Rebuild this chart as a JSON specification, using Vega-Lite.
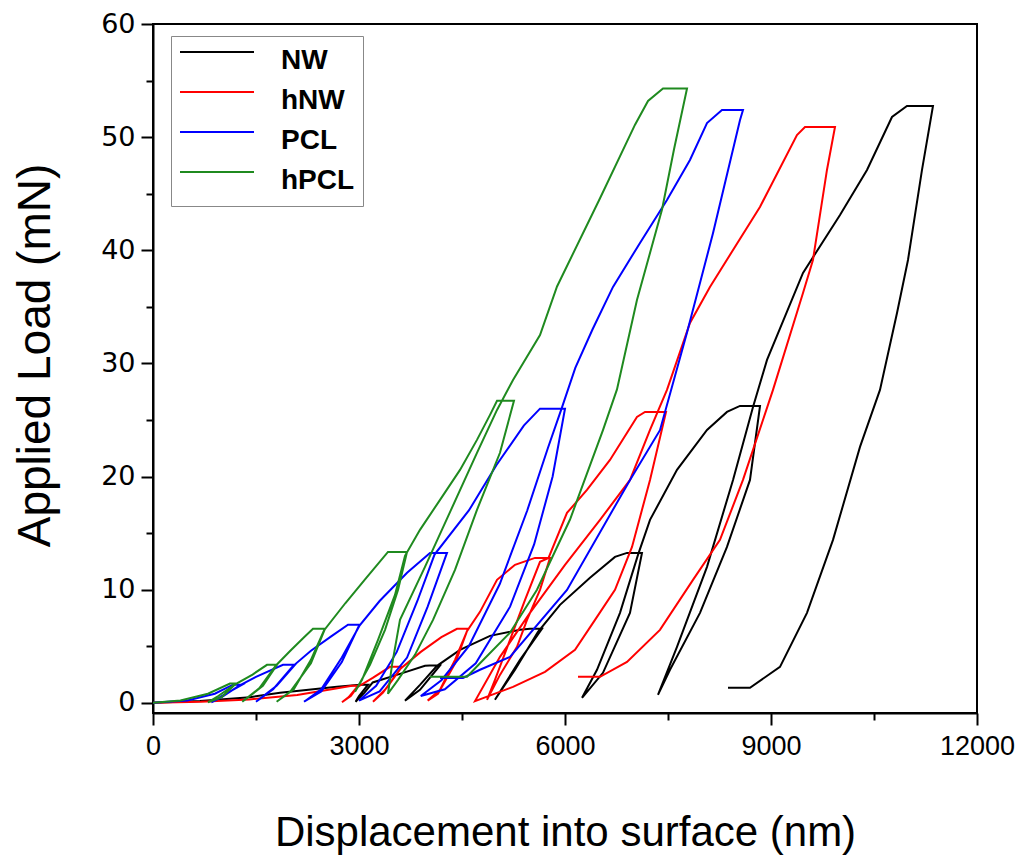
{
  "$schema": "https://vega.github.io/schema/vega-lite/v6.json",
  "autosize": {"type": "none"},
  "width": 824,
  "height": 689,
  "padding": {"left": 153, "top": 24, "right": 52, "bottom": 145},
  "background": "white",
  "config": {"view": {"stroke": "black", "strokeWidth": 2}, "legend": {"strokeColor": "#888888", "fillColor": "white"}},
  "data": {"values": [
    {"s":"NW","i":1,"x":0,"y":0},{"s":"NW","i":2,"x":684,"y":0.15},{"s":"NW","i":3,"x":1413,"y":0.5},{"s":"NW","i":4,"x":1850,"y":0.88},{"s":"NW","i":5,"x":2680,"y":1.41},{"s":"NW","i":6,"x":3015,"y":1.6},{"s":"NW","i":7,"x":3131,"y":1.6},{"s":"NW","i":8,"x":3000,"y":0.6},{"s":"NW","i":9,"x":2950,"y":0.1},{"s":"NW","i":10,"x":3080,"y":0.9},{"s":"NW","i":11,"x":3200,"y":1.8},{"s":"NW","i":12,"x":3597,"y":2.56},{"s":"NW","i":13,"x":3961,"y":3.27},{"s":"NW","i":14,"x":4030,"y":3.3},{"s":"NW","i":15,"x":4180,"y":3.3},{"s":"NW","i":16,"x":3888,"y":1.15},{"s":"NW","i":17,"x":3670,"y":0.18},{"s":"NW","i":18,"x":3888,"y":1.59},{"s":"NW","i":19,"x":4136,"y":3.27},{"s":"NW","i":20,"x":4471,"y":4.68},{"s":"NW","i":21,"x":4908,"y":5.92},{"s":"NW","i":22,"x":5345,"y":6.45},{"s":"NW","i":23,"x":5490,"y":6.54},{"s":"NW","i":24,"x":5665,"y":6.54},{"s":"NW","i":25,"x":5345,"y":3.8},{"s":"NW","i":26,"x":4980,"y":0.27},{"s":"NW","i":27,"x":5272,"y":2.92},{"s":"NW","i":28,"x":5607,"y":6.27},{"s":"NW","i":29,"x":5927,"y":8.66},{"s":"NW","i":30,"x":6364,"y":11.05},{"s":"NW","i":31,"x":6728,"y":12.9},{"s":"NW","i":32,"x":6903,"y":13.25},{"s":"NW","i":33,"x":7121,"y":13.25},{"s":"NW","i":34,"x":6946,"y":7.95},{"s":"NW","i":35,"x":6553,"y":2.65},{"s":"NW","i":36,"x":6248,"y":0.44},{"s":"NW","i":37,"x":6466,"y":2.92},{"s":"NW","i":38,"x":6801,"y":7.95},{"s":"NW","i":39,"x":7063,"y":13.08},{"s":"NW","i":40,"x":7238,"y":16.17},{"s":"NW","i":41,"x":7631,"y":20.59},{"s":"NW","i":42,"x":8068,"y":24.12},{"s":"NW","i":43,"x":8359,"y":25.71},{"s":"NW","i":44,"x":8548,"y":26.24},{"s":"NW","i":45,"x":8840,"y":26.24},{"s":"NW","i":46,"x":8694,"y":19.7},{"s":"NW","i":47,"x":8359,"y":13.78},{"s":"NW","i":48,"x":7966,"y":7.95},{"s":"NW","i":49,"x":7529,"y":2.92},{"s":"NW","i":50,"x":7354,"y":0.71},{"s":"NW","i":51,"x":7631,"y":4.95},{"s":"NW","i":52,"x":8068,"y":12.02},{"s":"NW","i":53,"x":8447,"y":19.7},{"s":"NW","i":54,"x":8738,"y":26.15},{"s":"NW","i":55,"x":8942,"y":30.31},{"s":"NW","i":56,"x":9466,"y":38.0},{"s":"NW","i":57,"x":10005,"y":43.12},{"s":"NW","i":58,"x":10398,"y":47.1},{"s":"NW","i":59,"x":10762,"y":51.78},{"s":"NW","i":60,"x":10980,"y":52.75},{"s":"NW","i":61,"x":11359,"y":52.75},{"s":"NW","i":62,"x":11199,"y":47.1},{"s":"NW","i":63,"x":10995,"y":39.14},{"s":"NW","i":64,"x":10835,"y":34.46},{"s":"NW","i":65,"x":10587,"y":27.66},{"s":"NW","i":66,"x":10296,"y":22.62},{"s":"NW","i":67,"x":9903,"y":14.4},{"s":"NW","i":68,"x":9524,"y":7.95},{"s":"NW","i":69,"x":9131,"y":3.18},{"s":"NW","i":70,"x":8694,"y":1.33},{"s":"NW","i":71,"x":8374,"y":1.33},

    {"s":"hNW","i":1,"x":0,"y":0},{"s":"hNW","i":2,"x":700,"y":0.1},{"s":"hNW","i":3,"x":1400,"y":0.3},{"s":"hNW","i":4,"x":2100,"y":0.7},{"s":"hNW","i":5,"x":2600,"y":1.2},{"s":"hNW","i":6,"x":2898,"y":1.5},{"s":"hNW","i":7,"x":2985,"y":1.5},{"s":"hNW","i":8,"x":2850,"y":0.5},{"s":"hNW","i":9,"x":2752,"y":0.05},{"s":"hNW","i":10,"x":2880,"y":0.6},{"s":"hNW","i":11,"x":2980,"y":1.4},{"s":"hNW","i":12,"x":3200,"y":2.2},{"s":"hNW","i":13,"x":3451,"y":3.18},{"s":"hNW","i":14,"x":3626,"y":3.18},{"s":"hNW","i":15,"x":3400,"y":1.3},{"s":"hNW","i":16,"x":3204,"y":0.1},{"s":"hNW","i":17,"x":3350,"y":0.9},{"s":"hNW","i":18,"x":3600,"y":3.0},{"s":"hNW","i":19,"x":3900,"y":4.5},{"s":"hNW","i":20,"x":4200,"y":5.8},{"s":"hNW","i":21,"x":4427,"y":6.54},{"s":"hNW","i":22,"x":4587,"y":6.54},{"s":"hNW","i":23,"x":4398,"y":3.8},{"s":"hNW","i":24,"x":4180,"y":1.15},{"s":"hNW","i":25,"x":4000,"y":0.2},{"s":"hNW","i":26,"x":4150,"y":0.8},{"s":"hNW","i":27,"x":4400,"y":3.5},{"s":"hNW","i":28,"x":4570,"y":6.3},{"s":"hNW","i":29,"x":4762,"y":8.04},{"s":"hNW","i":30,"x":5010,"y":10.87},{"s":"hNW","i":31,"x":5272,"y":12.2},{"s":"hNW","i":32,"x":5563,"y":12.81},{"s":"hNW","i":33,"x":5782,"y":12.81},{"s":"hNW","i":34,"x":5636,"y":9.98},{"s":"hNW","i":35,"x":5447,"y":7.33},{"s":"hNW","i":36,"x":5301,"y":4.95},{"s":"hNW","i":37,"x":5053,"y":2.47},{"s":"hNW","i":38,"x":4864,"y":0.27},{"s":"hNW","i":39,"x":4980,"y":2.03},{"s":"hNW","i":40,"x":5199,"y":5.57},{"s":"hNW","i":41,"x":5418,"y":9.1},{"s":"hNW","i":42,"x":5636,"y":12.46},{"s":"hNW","i":43,"x":5760,"y":12.8},{"s":"hNW","i":44,"x":6029,"y":16.79},{"s":"hNW","i":45,"x":6320,"y":18.82},{"s":"hNW","i":46,"x":6655,"y":21.47},{"s":"hNW","i":47,"x":7048,"y":25.27},{"s":"hNW","i":48,"x":7165,"y":25.71},{"s":"hNW","i":49,"x":7471,"y":25.71},{"s":"hNW","i":50,"x":7238,"y":19.7},{"s":"hNW","i":51,"x":6976,"y":13.78},{"s":"hNW","i":52,"x":6728,"y":9.98},{"s":"hNW","i":53,"x":6437,"y":7.33},{"s":"hNW","i":54,"x":6146,"y":4.68},{"s":"hNW","i":55,"x":5709,"y":2.74},{"s":"hNW","i":56,"x":5243,"y":1.41},{"s":"hNW","i":57,"x":4690,"y":0.15},{"s":"hNW","i":58,"x":5053,"y":4.06},{"s":"hNW","i":59,"x":5490,"y":7.95},{"s":"hNW","i":60,"x":6000,"y":12.2},{"s":"hNW","i":61,"x":6510,"y":16.17},{"s":"hNW","i":62,"x":6947,"y":19.7},{"s":"hNW","i":63,"x":7238,"y":24.12},{"s":"hNW","i":64,"x":7485,"y":27.66},{"s":"hNW","i":65,"x":7820,"y":33.58},{"s":"hNW","i":66,"x":8111,"y":36.76},{"s":"hNW","i":67,"x":8839,"y":43.83},{"s":"hNW","i":68,"x":9378,"y":50.19},{"s":"hNW","i":69,"x":9495,"y":50.9},{"s":"hNW","i":70,"x":9932,"y":50.9},{"s":"hNW","i":71,"x":9815,"y":47.1},{"s":"hNW","i":72,"x":9611,"y":39.14},{"s":"hNW","i":73,"x":9466,"y":36.23},{"s":"hNW","i":74,"x":9029,"y":27.66},{"s":"hNW","i":75,"x":8592,"y":19.7},{"s":"hNW","i":76,"x":8257,"y":14.4},{"s":"hNW","i":77,"x":7864,"y":10.87},{"s":"hNW","i":78,"x":7383,"y":6.45},{"s":"hNW","i":79,"x":6903,"y":3.62},{"s":"hNW","i":80,"x":6510,"y":2.3},{"s":"hNW","i":81,"x":6189,"y":2.3},

    {"s":"PCL","i":1,"x":0,"y":0},{"s":"PCL","i":2,"x":500,"y":0.2},{"s":"PCL","i":3,"x":900,"y":0.8},{"s":"PCL","i":4,"x":1165,"y":1.6},{"s":"PCL","i":5,"x":1296,"y":1.6},{"s":"PCL","i":6,"x":1000,"y":0.6},{"s":"PCL","i":7,"x":850,"y":0.05},{"s":"PCL","i":8,"x":1000,"y":0.5},{"s":"PCL","i":9,"x":1250,"y":1.5},{"s":"PCL","i":10,"x":1500,"y":2.3},{"s":"PCL","i":11,"x":1893,"y":3.36},{"s":"PCL","i":12,"x":2068,"y":3.36},{"s":"PCL","i":13,"x":1800,"y":1.5},{"s":"PCL","i":14,"x":1500,"y":0.1},{"s":"PCL","i":15,"x":1750,"y":1.2},{"s":"PCL","i":16,"x":2030,"y":3.2},{"s":"PCL","i":17,"x":2300,"y":4.6},{"s":"PCL","i":18,"x":2600,"y":5.9},{"s":"PCL","i":19,"x":2840,"y":6.9},{"s":"PCL","i":20,"x":3015,"y":6.9},{"s":"PCL","i":21,"x":2750,"y":4.0},{"s":"PCL","i":22,"x":2450,"y":1.2},{"s":"PCL","i":23,"x":2200,"y":0.1},{"s":"PCL","i":24,"x":2450,"y":1.0},{"s":"PCL","i":25,"x":2750,"y":3.6},{"s":"PCL","i":26,"x":2990,"y":6.7},{"s":"PCL","i":27,"x":3300,"y":9.0},{"s":"PCL","i":28,"x":3700,"y":11.5},{"s":"PCL","i":29,"x":4034,"y":13.25},{"s":"PCL","i":30,"x":4281,"y":13.25},{"s":"PCL","i":31,"x":4000,"y":8.5},{"s":"PCL","i":32,"x":3700,"y":4.0},{"s":"PCL","i":33,"x":3300,"y":1.0},{"s":"PCL","i":34,"x":3000,"y":0.2},{"s":"PCL","i":35,"x":3250,"y":1.5},{"s":"PCL","i":36,"x":3550,"y":4.5},{"s":"PCL","i":37,"x":3850,"y":9.0},{"s":"PCL","i":38,"x":4100,"y":13.1},{"s":"PCL","i":39,"x":4600,"y":17.0},{"s":"PCL","i":40,"x":5000,"y":21.0},{"s":"PCL","i":41,"x":5400,"y":24.5},{"s":"PCL","i":42,"x":5636,"y":26.0},{"s":"PCL","i":43,"x":6000,"y":26.0},{"s":"PCL","i":44,"x":5820,"y":20.0},{"s":"PCL","i":45,"x":5550,"y":14.0},{"s":"PCL","i":46,"x":5200,"y":8.5},{"s":"PCL","i":47,"x":4700,"y":3.5},{"s":"PCL","i":48,"x":4250,"y":1.2},{"s":"PCL","i":49,"x":3900,"y":0.6},{"s":"PCL","i":50,"x":4200,"y":2.0},{"s":"PCL","i":51,"x":4600,"y":5.0},{"s":"PCL","i":52,"x":5050,"y":10.5},{"s":"PCL","i":53,"x":5450,"y":17.0},{"s":"PCL","i":54,"x":5750,"y":22.5},{"s":"PCL","i":55,"x":5950,"y":26.0},{"s":"PCL","i":56,"x":6150,"y":29.6},{"s":"PCL","i":57,"x":6400,"y":33.0},{"s":"PCL","i":58,"x":6699,"y":36.76},{"s":"PCL","i":59,"x":7092,"y":40.65},{"s":"PCL","i":60,"x":7485,"y":44.45},{"s":"PCL","i":61,"x":7820,"y":47.98},{"s":"PCL","i":62,"x":8068,"y":51.25},{"s":"PCL","i":63,"x":8286,"y":52.4},{"s":"PCL","i":64,"x":8592,"y":52.4},{"s":"PCL","i":65,"x":8548,"y":51.5},{"s":"PCL","i":66,"x":8155,"y":41.5},{"s":"PCL","i":67,"x":7776,"y":32.7},{"s":"PCL","i":68,"x":7383,"y":24.1},{"s":"PCL","i":69,"x":6947,"y":19.7},{"s":"PCL","i":70,"x":6029,"y":9.98},{"s":"PCL","i":71,"x":5199,"y":4.06},{"s":"PCL","i":72,"x":4762,"y":2.92},{"s":"PCL","i":73,"x":4515,"y":2.2},{"s":"PCL","i":74,"x":4180,"y":2.2},

    {"s":"hPCL","i":1,"x":0,"y":0},{"s":"hPCL","i":2,"x":400,"y":0.2},{"s":"hPCL","i":3,"x":800,"y":0.8},{"s":"hPCL","i":4,"x":1121,"y":1.7},{"s":"hPCL","i":5,"x":1209,"y":1.7},{"s":"hPCL","i":6,"x":1000,"y":0.5},{"s":"hPCL","i":7,"x":800,"y":0.05},{"s":"hPCL","i":8,"x":950,"y":0.6},{"s":"hPCL","i":9,"x":1190,"y":1.6},{"s":"hPCL","i":10,"x":1450,"y":2.5},{"s":"hPCL","i":11,"x":1660,"y":3.36},{"s":"hPCL","i":12,"x":1806,"y":3.36},{"s":"hPCL","i":13,"x":1600,"y":1.5},{"s":"hPCL","i":14,"x":1300,"y":0.1},{"s":"hPCL","i":15,"x":1550,"y":1.3},{"s":"hPCL","i":16,"x":1790,"y":3.3},{"s":"hPCL","i":17,"x":2000,"y":4.6},{"s":"hPCL","i":18,"x":2200,"y":5.8},{"s":"hPCL","i":19,"x":2330,"y":6.54},{"s":"hPCL","i":20,"x":2505,"y":6.54},{"s":"hPCL","i":21,"x":2300,"y":3.5},{"s":"hPCL","i":22,"x":2000,"y":1.0},{"s":"hPCL","i":23,"x":1800,"y":0.1},{"s":"hPCL","i":24,"x":2050,"y":1.2},{"s":"hPCL","i":25,"x":2300,"y":3.8},{"s":"hPCL","i":26,"x":2490,"y":6.4},{"s":"hPCL","i":27,"x":2800,"y":8.8},{"s":"hPCL","i":28,"x":3100,"y":11.0},{"s":"hPCL","i":29,"x":3422,"y":13.34},{"s":"hPCL","i":30,"x":3699,"y":13.34},{"s":"hPCL","i":31,"x":3568,"y":9.98},{"s":"hPCL","i":32,"x":3379,"y":6.45},{"s":"hPCL","i":33,"x":3160,"y":3.36},{"s":"hPCL","i":34,"x":2942,"y":0.97},{"s":"hPCL","i":35,"x":3044,"y":2.03},{"s":"hPCL","i":36,"x":3277,"y":5.57},{"s":"hPCL","i":37,"x":3524,"y":9.54},{"s":"hPCL","i":38,"x":3670,"y":12.99},{"s":"hPCL","i":39,"x":3888,"y":15.29},{"s":"hPCL","i":40,"x":4180,"y":17.94},{"s":"hPCL","i":41,"x":4471,"y":20.59},{"s":"hPCL","i":42,"x":4718,"y":23.24},{"s":"hPCL","i":43,"x":4908,"y":25.45},{"s":"hPCL","i":44,"x":5010,"y":26.7},{"s":"hPCL","i":45,"x":5257,"y":26.7},{"s":"hPCL","i":46,"x":5053,"y":22.1},{"s":"hPCL","i":47,"x":4718,"y":17.05},{"s":"hPCL","i":48,"x":4398,"y":11.75},{"s":"hPCL","i":49,"x":4078,"y":7.33},{"s":"hPCL","i":50,"x":3815,"y":4.24},{"s":"hPCL","i":51,"x":3568,"y":2.03},{"s":"hPCL","i":52,"x":3422,"y":0.8},{"s":"hPCL","i":53,"x":3481,"y":3.36},{"s":"hPCL","i":54,"x":3597,"y":7.33},{"s":"hPCL","i":55,"x":3961,"y":12.02},{"s":"hPCL","i":56,"x":4340,"y":17.05},{"s":"hPCL","i":57,"x":4718,"y":22.09},{"s":"hPCL","i":58,"x":5010,"y":25.89},{"s":"hPCL","i":59,"x":5243,"y":28.54},{"s":"hPCL","i":60,"x":5636,"y":32.5},{"s":"hPCL","i":61,"x":5884,"y":36.8},{"s":"hPCL","i":62,"x":6510,"y":44.6},{"s":"hPCL","i":63,"x":7020,"y":51.1},{"s":"hPCL","i":64,"x":7209,"y":53.2},{"s":"hPCL","i":65,"x":7427,"y":54.3},{"s":"hPCL","i":66,"x":7777,"y":54.3},{"s":"hPCL","i":67,"x":7587,"y":48.9},{"s":"hPCL","i":68,"x":7413,"y":43.6},{"s":"hPCL","i":69,"x":7048,"y":35.6},{"s":"hPCL","i":70,"x":6757,"y":27.7},{"s":"hPCL","i":71,"x":6553,"y":24.1},{"s":"hPCL","i":72,"x":6073,"y":16.2},{"s":"hPCL","i":73,"x":5592,"y":10.0},{"s":"hPCL","i":74,"x":5199,"y":6.2},{"s":"hPCL","i":75,"x":4762,"y":3.5},{"s":"hPCL","i":76,"x":4573,"y":2.3},{"s":"hPCL","i":77,"x":4034,"y":2.3}
  ]},
  "mark": {"type": "line", "strokeWidth": 2, "clip": true},
  "encoding": {
    "x": {
      "field": "x", "type": "quantitative",
      "scale": {"domain": [0, 12000], "nice": false, "zero": false},
      "axis": {
        "title": "Displacement into surface (nm)",
        "values": [0, 1500, 3000, 4500, 6000, 7500, 9000, 10500, 12000],
        "labelExpr": "datum.value % 3000 === 0 ? datum.value : ''",
        "grid": false,
        "domainColor": "black", "domainWidth": 2,
        "tickColor": "black", "tickWidth": 2,
        "tickSize": {"condition": {"test": "datum.value % 3000 === 0", "value": 12}, "value": 7},
        "labelFont": "Liberation Sans", "labelFontSize": 27, "labelColor": "black",
        "labelPadding": 8, "labelFlush": false,
        "titleFont": "Liberation Sans", "titleFontSize": 42, "titleFontWeight": "normal", "titleColor": "black",
        "titleY": 119, "titleBaseline": "middle"
      }
    },
    "y": {
      "field": "y", "type": "quantitative",
      "scale": {"domain": [-0.9, 60], "nice": false, "zero": false},
      "axis": {
        "title": "Applied Load (mN)",
        "values": [0, 5, 10, 15, 20, 25, 30, 35, 40, 45, 50, 55, 60],
        "labelExpr": "datum.value % 10 === 0 ? datum.value : ''",
        "grid": false,
        "domainColor": "black", "domainWidth": 2,
        "tickColor": "black", "tickWidth": 2,
        "tickSize": {"condition": {"test": "datum.value % 10 === 0", "value": 12}, "value": 7},
        "labelFont": "DejaVu Sans", "labelFontSize": 27, "labelColor": "black", "labelPadding": 6,
        "titleFont": "Liberation Sans", "titleFontSize": 46, "titleFontWeight": "normal", "titleColor": "black",
        "titleX": -118, "titleY": 331, "titleAlign": "center", "titleBaseline": "middle", "titleAngle": -90
      }
    },
    "color": {
      "field": "s", "type": "nominal",
      "scale": {"domain": ["NW", "hNW", "PCL", "hPCL"], "range": ["#000000", "#ff0000", "#0000ff", "#1f8a1f"]},
      "legend": {
        "orient": "none", "legendX": 18, "legendY": 12, "title": null,
        "symbolType": "M-1,-0.24L1,-0.24", "symbolSize": 5476, "symbolStrokeWidth": 2,
        "clipHeight": 34, "rowPadding": 6, "padding": 8,
        "labelFont": "Liberation Sans", "labelFontWeight": "bold", "labelFontSize": 28, "labelColor": "black",
        "labelBaseline": "middle", "labelOffset": 26, "labelLimit": 300
      }
    },
    "order": {"field": "i", "type": "quantitative"}
  }
}
